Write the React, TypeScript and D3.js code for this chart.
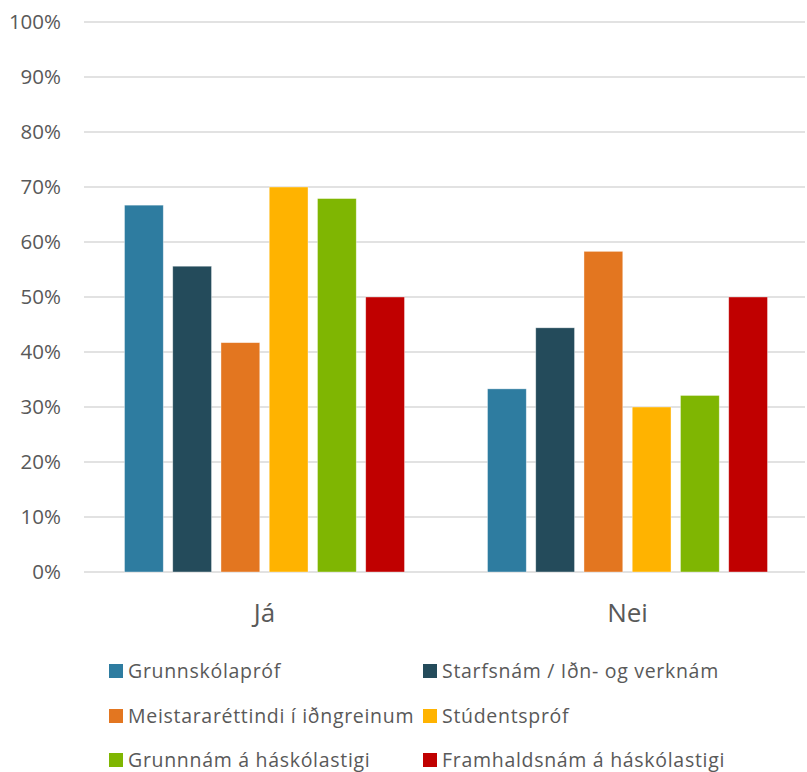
import React from "react";
import * as d3 from "d3";

const categories = ["Já", "Nei"];
const seriesNames = [
  "Grunnskólapróf",
  "Starfsnám / Iðn- og verknám",
  "Meistararéttindi í iðngreinum",
  "Stúdentspróf",
  "Grunnnám á háskólastigi",
  "Framhaldsnám á háskólastigi",
];
const seriesColors = ["#2E7CA0", "#244B5B", "#E37620", "#FFB300", "#7FB602", "#C00000"];
const jaValues = [0.667, 0.556, 0.417, 0.70, 0.679, 0.50];
const neiValues = [0.333, 0.444, 0.583, 0.30, 0.321, 0.50];
const yTicks = [0, 0.1, 0.2, 0.3, 0.4, 0.5, 0.6, 0.7, 0.8, 0.9, 1.0];

const W = 807;
const H = 772;
const FONT = "'Open Sans', 'Segoe UI', sans-serif";

export default function App() {
  const valuesByCat = [jaValues, neiValues];
  const y = d3.scaleLinear().domain([0, 1]).range([572, 22]);
  const x0 = d3.scaleBand<string>().domain(categories).range([83, 809]).paddingInner(0).paddingOuter(0);
  const bw = x0.bandwidth();
  const x1 = d3
    .scaleBand<string>()
    .domain(seriesNames)
    .range([bw / 2 - 140, bw / 2 + 140])
    .paddingInner(0.196)
    .paddingOuter(0);
  const fmt = d3.format(".0%");

  const legendCols = [109, 423];
  const legendRows = [671, 716, 760];

  return (
    <svg width={W} height={H} style={{ position: "absolute", left: 0, top: 0, background: "#fff" }}>
      <rect x={0} y={0} width={W} height={H} fill="#fff" />
      {yTicks.map((t) => (
        <g key={t}>
          <line x1={84} x2={805} y1={y(t)} y2={y(t)} stroke="#D9D9D9" strokeWidth={1.5} />
          <text
            x={61}
            y={y(t) + 7}
            textAnchor="end"
            fontFamily={FONT}
            fontSize={20.5}
            fill="#595959"
          >
            {fmt(t)}
          </text>
        </g>
      ))}
      {categories.map((c, ci) => (
        <g key={c} transform={`translate(${x0(c)},0)`}>
          {seriesNames.map((s, si) => {
            const v = valuesByCat[ci][si];
            return (
              <rect
                key={s}
                x={x1(s)}
                y={y(v)}
                width={x1.bandwidth()}
                height={y(0) - y(v)}
                fill={seriesColors[si]}
                stroke="#ffffff"
                strokeOpacity={0.5}
                strokeWidth={0.75}
              />
            );
          })}
          <text
            x={bw / 2}
            y={622}
            textAnchor="middle"
            fontFamily={FONT}
            fontSize={26}
            fill="#595959"
          >
            {c}
          </text>
        </g>
      ))}
      {seriesNames.map((s, i) => {
        const cx = legendCols[i % 2];
        const cy = legendRows[Math.floor(i / 2)];
        return (
          <g key={s}>
            <rect x={cx} y={cy - 7} width={14} height={14} fill={seriesColors[i]} />
            <text
              x={cx + 19}
              y={cy + 6.5}
              fontFamily={FONT}
              fontSize={19.5}
              letterSpacing={0.7}
              fill="#595959"
            >
              {s}
            </text>
          </g>
        );
      })}
    </svg>
  );
}
